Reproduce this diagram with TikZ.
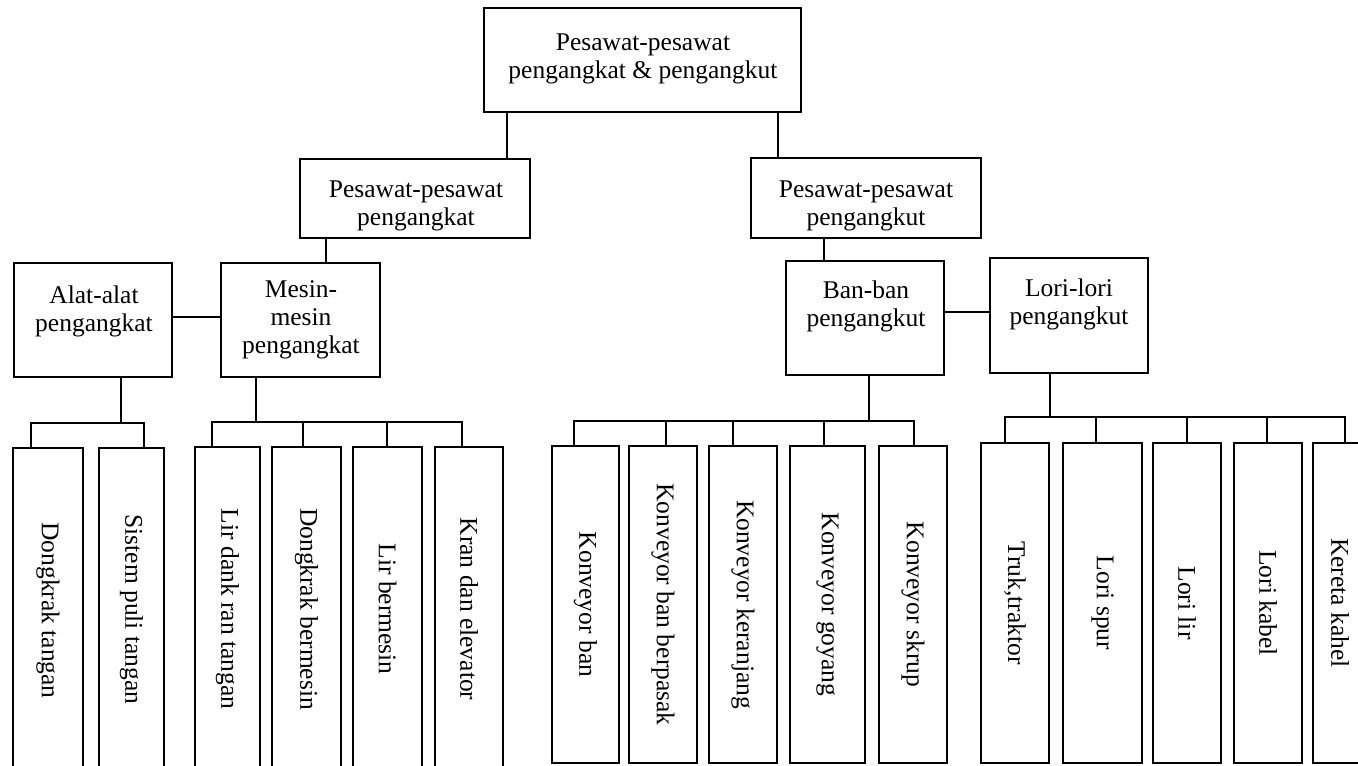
\documentclass[tikz,border=0pt]{standalone}
\usepackage{fontspec}
\setmainfont{Liberation Serif}
\usetikzlibrary{calc}
\tikzset{
  box/.style={draw, line width=1.6pt, inner sep=0pt, outer sep=0pt},
  lbl/.style={inner sep=0pt, align=center, font=\fontsize{25.5}{28}\selectfont},
  vlbl/.style={inner sep=0pt, rotate=-90, font=\fontsize{25.5}{28}\selectfont},
  con/.style={line width=1.6pt, line join=miter},
}
\newcommand{\mybox}[5]{\node[box, minimum width={(#4)-(#2)}, minimum height={(#5)-(#3)}] (#1) at ({((#2)+(#4))/2},{((#3)+(#5))/2}) {};}
\begin{document}
\begin{tikzpicture}[x=1pt,y=-1pt]
\clip (0,0) rectangle (1358,766);
\fill[white] (0,0) rectangle (1358,766);
% upper boxes
\mybox{T}{484}{8}{801}{112}
\mybox{PA}{300}{159}{530}{238}
\mybox{PB}{751}{158}{981}{238}
\mybox{AL}{14}{263}{172}{377}
\mybox{ME}{221}{263}{380}{377}
\mybox{BA}{786}{261}{944}{375}
\mybox{LO}{990}{258}{1148}{373}
\node[lbl] (Tt) at (643,59) {Pesawat-pesawat\\pengangkat \& pengangkut};
\node[lbl] (PAt) at (416,206) {Pesawat-pesawat\\pengangkat};
\node[lbl] (PBt) at (866,206) {Pesawat-pesawat\\pengangkut};
\node[lbl] (ALt) at (94,311) {Alat-alat\\pengangkat};
\node[lbl] (MEt) at (301,320) {Mesin-\\mesin\\pengangkat};
\node[lbl] (BAt) at (866,306) {Ban-ban\\pengangkut};
\node[lbl] (LOt) at (1069,304) {Lori-lori\\pengangkut};
% leaf boxes
\mybox{d1}{13}{448}{83}{767}
\mybox{d2}{99}{448}{164}{767}
\mybox{m1}{195}{447}{260}{767}
\mybox{m2}{272}{447}{341}{767}
\mybox{m3}{353}{447}{422}{767}
\mybox{m4}{435}{447}{503}{767}
\mybox{k1}{552}{446}{619}{763}
\mybox{k2}{629}{446}{697}{763}
\mybox{k3}{709}{446}{777}{763}
\mybox{k4}{790}{446}{865}{763}
\mybox{k5}{879}{446}{947}{763}
\mybox{r1}{981}{443}{1049}{763}
\mybox{r2}{1063}{443}{1142}{763}
\mybox{r3}{1153}{443}{1221}{763}
\mybox{r4}{1234}{443}{1302}{763}
\mybox{r5}{1313}{443}{1381}{763}
\node[vlbl] (d1t) at ($(d1)+(0,3)$) {Dongkrak tangan};
\node[vlbl] (d2t) at ($(d2)+(0,2)$) {Sistem puli tangan};
\node[vlbl] (m1t) at ($(m1)+(0,2)$) {Lir dank ran tangan};
\node[vlbl] (m2t) at ($(m2)+(0,2)$) {Dongkrak bermesin};
\node[vlbl] (m3t) at ($(m3)+(0,2)$) {Lir bermesin};
\node[vlbl] (m4t) at ($(m4)+(0,2)$) {Kran dan elevator};
\node[vlbl] (k1t) at (k1) {Konveyor ban};
\node[vlbl] (k2t) at (k2) {Konveyor ban berpasak};
\node[vlbl] (k3t) at (k3) {Konveyor keranjang};
\node[vlbl] (k4t) at (k4) {Konveyor goyang};
\node[vlbl] (k5t) at (k5) {Konveyor skrup};
\node[vlbl] (r1t) at (r1) {Truk,traktor};
\node[vlbl] (r2t) at (r2) {Lori spur};
\node[vlbl] (r3t) at (r3) {Lori lir};
\node[vlbl] (r4t) at (r4) {Lori kabel};
\node[vlbl] (r5t) at (1340,603) {Kereta kahel};
% connector coordinates
\coordinate (xa) at (507,0);
\coordinate (xb) at (778,0);
\coordinate (xc) at (326,0);
\coordinate (xd) at (824,0);
\coordinate (ya) at (0,317);
\coordinate (yb) at (0,312);
\draw[con] (T.south -| xa) -- (PA.north -| xa);
\draw[con] (T.south -| xb) -- (PB.north -| xb);
\draw[con] (PA.south -| xc) -- (ME.north -| xc);
\draw[con] (PB.south -| xd) -- (BA.north -| xd);
\draw[con] (AL.east |- ya) -- (ME.west |- ya);
\draw[con] (BA.east |- yb) -- (LO.west |- yb);
% Alat group
\coordinate (a0) at (121,423);
\coordinate (a1) at (31,423);
\coordinate (a2) at (144,423);
\draw[con] (AL.south -| a0) -- (a0);
\draw[con] (d1.north -| a1) -- (a1) -- (a2) -- (d2.north -| a2);
% Mesin group
\coordinate (b0) at (256,422);
\coordinate (b1) at (212,422);
\coordinate (b2) at (303,422);
\coordinate (b3) at (387,422);
\coordinate (b4) at (462,422);
\draw[con] (ME.south -| b0) -- (b0);
\draw[con] (m1.north -| b1) -- (b1) -- (b4) -- (m4.north -| b4);
\draw[con] (b2) -- (m2.north -| b2);
\draw[con] (b3) -- (m3.north -| b3);
% Ban group
\coordinate (c0) at (869,421);
\coordinate (c1) at (574,421);
\coordinate (c2) at (666,421);
\coordinate (c3) at (733,421);
\coordinate (c4) at (824,421);
\coordinate (c5) at (914,421);
\draw[con] (BA.south -| c0) -- (c0);
\draw[con] (k1.north -| c1) -- (c1) -- (c5) -- (k5.north -| c5);
\draw[con] (c2) -- (k2.north -| c2);
\draw[con] (c3) -- (k3.north -| c3);
\draw[con] (c4) -- (k4.north -| c4);
% Lori group
\coordinate (e0) at (1050,417);
\coordinate (e1) at (1005,417);
\coordinate (e2) at (1096,417);
\coordinate (e3) at (1187,417);
\coordinate (e4) at (1267,417);
\coordinate (e5) at (1345,417);
\draw[con] (LO.south -| e0) -- (e0);
\draw[con] (r1.north -| e1) -- (e1) -- (e5) -- (r5.north -| e5);
\draw[con] (e2) -- (r2.north -| e2);
\draw[con] (e3) -- (r3.north -| e3);
\draw[con] (e4) -- (r4.north -| e4);
\end{tikzpicture}
\end{document}
